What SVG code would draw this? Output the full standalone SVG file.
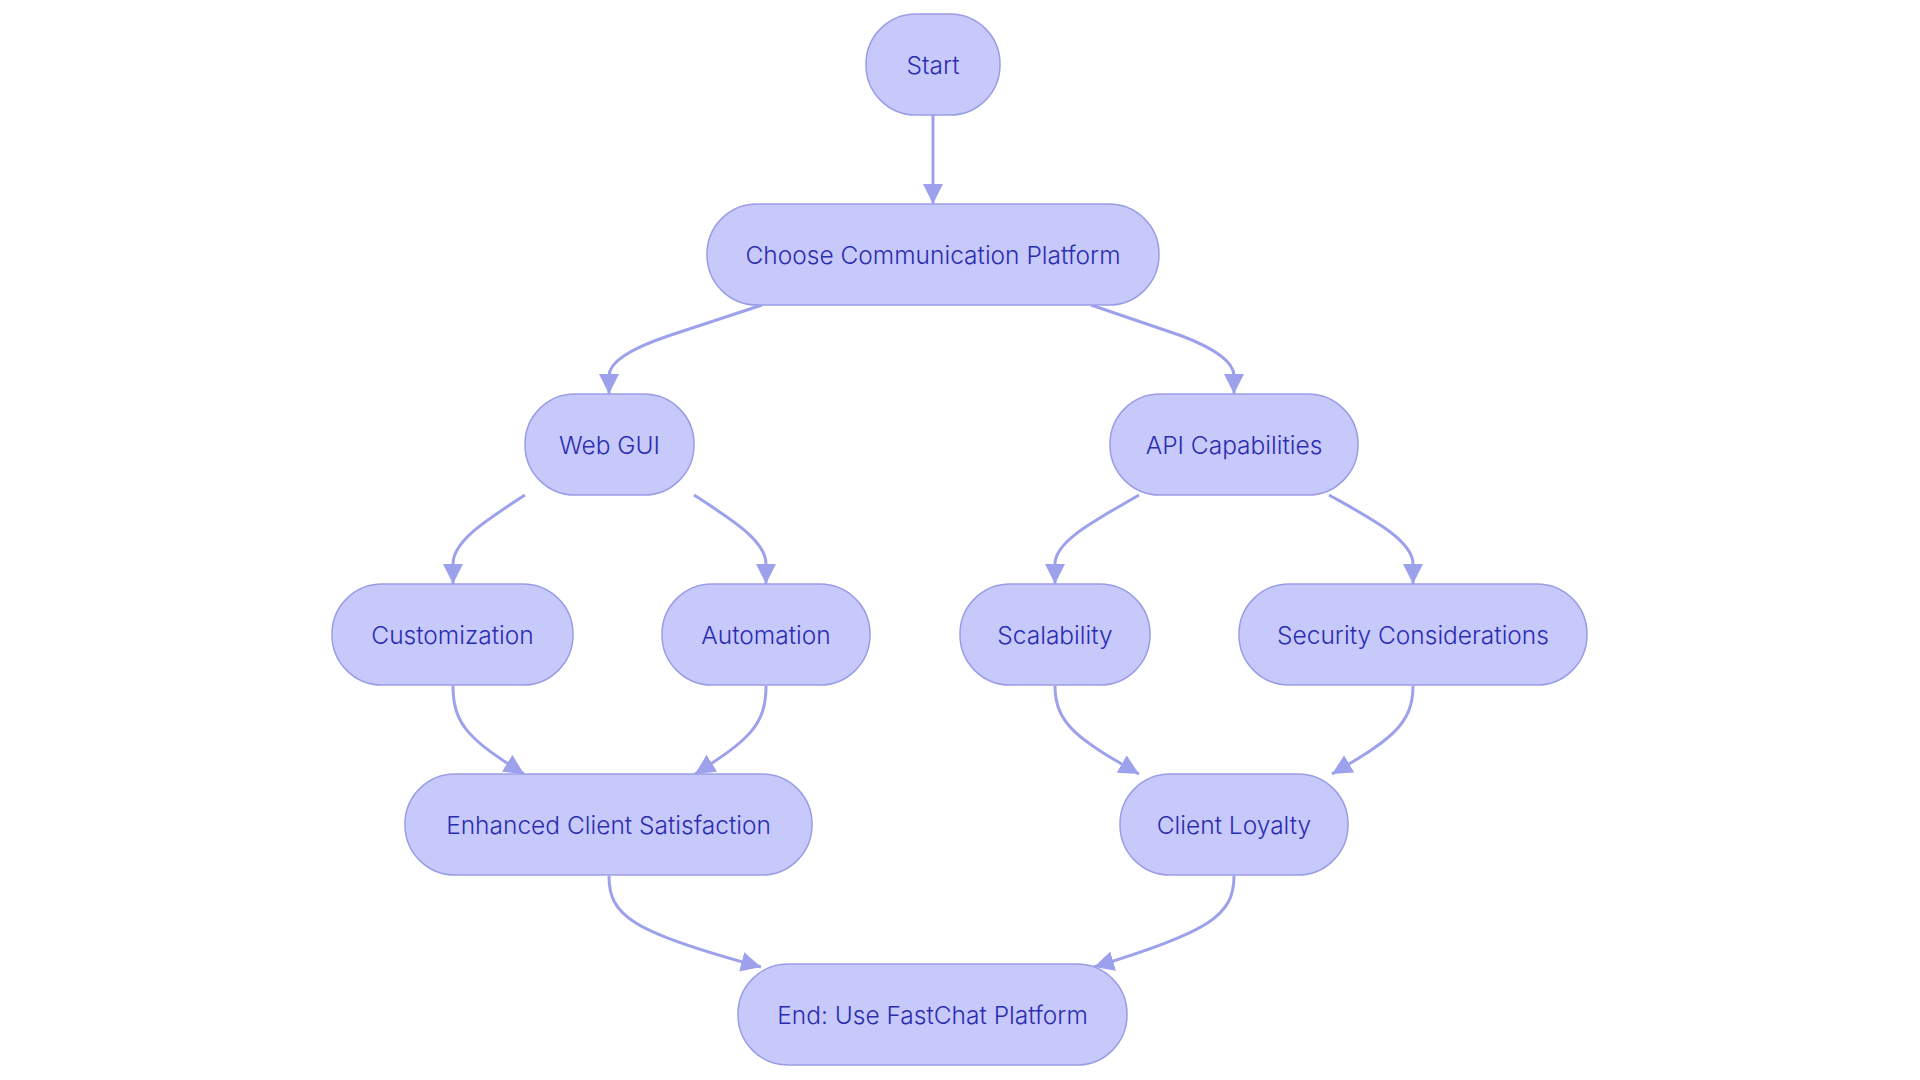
<svg xmlns="http://www.w3.org/2000/svg" width="1920" height="1080" viewBox="0 0 1920 1080">
<style>
.node rect{fill:#C8C9FB;stroke:#9A9DE6;stroke-width:1.5}
.node text{font-family:Inter,"Noto Sans",sans-serif;font-size:24.5px;font-weight:300;fill:#2B2DB0;text-anchor:middle;dominant-baseline:central}
.edge{fill:none;stroke:#9DA1EC;stroke-width:3;marker-end:url(#arrow)}
</style>
<defs>
<marker id="arrow" markerUnits="userSpaceOnUse" viewBox="0 0 20 20" markerWidth="20" markerHeight="20" refX="20" refY="10" orient="auto">
<path d="M0,0 L20,10 L0,20 z" fill="#9DA1EC"/>
</marker>
</defs>
<rect width="1920" height="1080" fill="#ffffff"/>
<g id="edges">
<path class="edge" d="M933,115 L933,204"/>
<path class="edge" d="M762,305 L668,336 Q609,356 609,376 L609,394"/>
<path class="edge" d="M1091,305 L1182,336 Q1234,356 1234,376 L1234,394"/>
<path class="edge" d="M525,495 C490,518 453,540 453,564 L453,584"/>
<path class="edge" d="M694,495 C729,518 766,540 766,564 L766,584"/>
<path class="edge" d="M1139,495 C1100,518 1055,540 1055,564 L1055,584"/>
<path class="edge" d="M1329,495 C1370,518 1413,540 1413,564 L1413,584"/>
<path class="edge" d="M453,686 C453,725 470,740 524,774"/>
<path class="edge" d="M766,686 C766,725 749,740 695,774"/>
<path class="edge" d="M1055,686 C1055,725 1080,740 1139,774"/>
<path class="edge" d="M1413,686 C1413,725 1390,740 1332,774"/>
<path class="edge" d="M609,876 C609,915 630,932 761,967"/>
<path class="edge" d="M1234,876 C1234,915 1210,932 1094,967"/>
</g>
<g id="start" class="node"><rect x="866" y="14" width="134" height="101" rx="50" ry="50"/><text x="933" y="64.5">Start</text></g>
<g id="choose" class="node"><rect x="707" y="204" width="452" height="101" rx="50" ry="50"/><text x="933" y="254.5">Choose Communication Platform</text></g>
<g id="webgui" class="node"><rect x="525" y="394" width="169" height="101" rx="50" ry="50"/><text x="609.5" y="444.5">Web GUI</text></g>
<g id="api" class="node"><rect x="1110" y="394" width="248" height="101" rx="50" ry="50"/><text x="1234" y="444.5">API Capabilities</text></g>
<g id="customization" class="node"><rect x="332" y="584" width="241" height="101" rx="50" ry="50"/><text x="452.5" y="634.5">Customization</text></g>
<g id="automation" class="node"><rect x="662" y="584" width="208" height="101" rx="50" ry="50"/><text x="766" y="634.5">Automation</text></g>
<g id="scalability" class="node"><rect x="960" y="584" width="190" height="101" rx="50" ry="50"/><text x="1055" y="634.5">Scalability</text></g>
<g id="security" class="node"><rect x="1239" y="584" width="348" height="101" rx="50" ry="50"/><text x="1413" y="634.5">Security Considerations</text></g>
<g id="enhanced" class="node"><rect x="405" y="774" width="407" height="101" rx="50" ry="50"/><text x="608.5" y="824.5">Enhanced Client Satisfaction</text></g>
<g id="loyalty" class="node"><rect x="1120" y="774" width="228" height="101" rx="50" ry="50"/><text x="1234" y="824.5">Client Loyalty</text></g>
<g id="end" class="node"><rect x="738" y="964" width="389" height="101" rx="50" ry="50"/><text x="932.5" y="1014.5">End: Use FastChat Platform</text></g>
</svg>
